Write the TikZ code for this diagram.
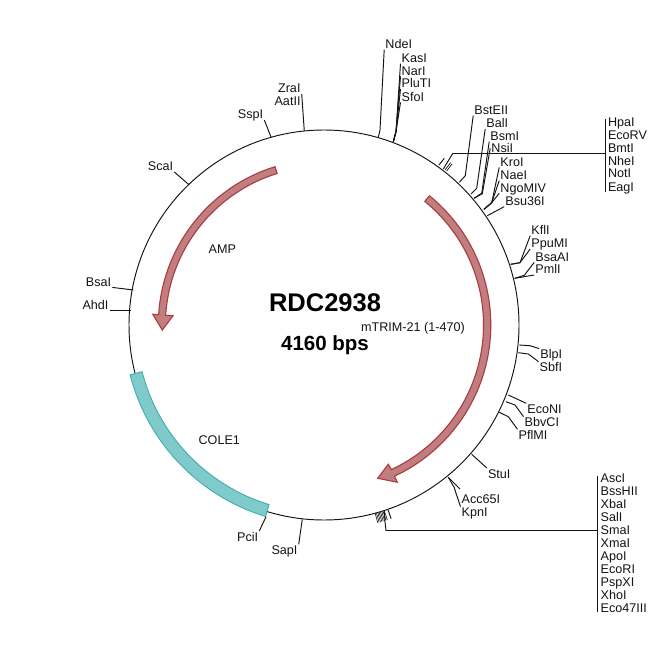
\documentclass[tikz,border=0pt]{standalone}
\usepackage{fontspec}
\setmainfont{Liberation Sans}
\definecolor{ink}{HTML}{141414}
\definecolor{redfill}{HTML}{C07E80}
\definecolor{redline}{HTML}{AD3A3E}
\definecolor{tealfill}{HTML}{7FCBCB}
\definecolor{tealline}{HTML}{45ABAB}
\tikzset{
  site/.style={font=\fontsize{12.6}{13}\selectfont,text=ink,inner sep=1pt,text height=9pt,text depth=0pt},
  rlab/.style={site,anchor=west},
  llab/.style={site,anchor=east},
  conn/.style={draw=ink,line width=0.95pt,line join=round},
  backbone/.style={draw=ink,line width=0.95pt},
  redarrow/.style={fill=redfill,draw=redline,line width=1.1pt,line join=miter},
  tealbox/.style={fill=tealfill,draw=tealline,line width=0.9pt},
  featlab/.style={font=\fontsize{12.6}{13}\selectfont,text=ink,inner sep=0pt},
}
\begin{document}
\begin{tikzpicture}[x=1pt,y=-1pt]
\useasboundingbox (0,0) rectangle (650,650);
\fill[white] (0,0) rectangle (650,650);
\coordinate (C) at (324,325);
\draw[backbone] (C) circle[radius=195pt];
\begin{scope}[shift={(324,325)},x=1pt,y=1pt]
  % AMP
  \draw[redarrow] (107.2:165.7) arc[start angle=107.2,end angle=176.5,radius=165.7pt]
     -- (176.4:171.6) -- (181.8:161.8) -- (176.5:151.3) -- (176.5:158.6)
     arc[start angle=176.5,end angle=107.2,radius=158.6pt] -- cycle;
  % mTRIM
  \draw[redarrow] (50.8:166.8) arc[start angle=50.8,end angle=-65,radius=166.8pt]
     -- (-65:173.5) -- (-70.7:162.4) -- (-65.2:153.4) -- (-65:159.5)
     arc[start angle=-65,end angle=50.8,radius=159.5pt] -- cycle;
  % COLE1
  \draw[tealbox] (194.4:200.2) arc[start angle=194.4,end angle=253,radius=200.2pt]
     -- (253:187.8) arc[start angle=253,end angle=194.4,radius=187.8pt] -- cycle;
  % dense tick clusters
  \foreach \a in {-74.8,-74.4,-74,-73.6,-73.2,-72.8,-72.4,-72}
    \draw[draw=ink,line width=0.6pt] (\a:195) -- (\a:205);
  \draw[conn] (-70.9:195.5) -- (-70.9:205);
  \coordinate (tBot) at (-72:195);
\end{scope}

% feature and title labels
\node[featlab] (amp) at (222.3,249) {AMP};
\node[featlab] (cole) at (219.3,440) {COLE1};
\node[featlab] (mtrim) at (413,328) {mTRIM-21 (1-470)};
\node[inner sep=0pt,text=black,font=\bfseries\fontsize{25.5}{26}\selectfont] (title) at (325,303) {RDC2938};
\node[inner sep=0pt,text=black,font=\bfseries\fontsize{20.5}{21}\selectfont] (size) at (325,345) {4160 bps};

% top labels
\node[rlab] (NdeI) at (384.2,44) {NdeI};
\node[rlab] (KasI) at (400.5,58) {KasI};
\node[rlab] (NarI) at (400.5,70.7) {NarI};
\node[rlab] (PluTI) at (400.5,83.3) {PluTI};
\node[rlab] (SfoI) at (400.5,96.7) {SfoI};
\node[rlab] (BstEII) at (473.2,110) {BstEII};
\node[rlab] (BalI) at (485.2,123.3) {BalI};
\node[rlab] (BsmI) at (489.2,136) {BsmI};
\node[rlab] (NsiI) at (490.2,148.3) {NsiI};
\node[rlab] (KroI) at (499.2,161.7) {KroI};
\node[rlab] (NaeI) at (499.2,175) {NaeI};
\node[rlab] (NgoMIV) at (499.2,187.7) {NgoMIV};
\node[rlab] (Bsu36I) at (504.2,201) {Bsu36I};
% right block
\foreach \n/\t/\y in {HpaI/HpaI/121.7,EcoRV/EcoRV/134.7,BmtI/BmtI/148,NheI/NheI/160.7,NotI/NotI/173.3,EagI/EagI/186.7}
  \node[rlab] (\n) at (606.8,\y) {\t};
% right side
\node[rlab] (KflI) at (530.2,230) {KflI};
\node[rlab] (PpuMI) at (530.2,243.3) {PpuMI};
\node[rlab] (BsaAI) at (534.2,256.7) {BsaAI};
\node[rlab] (PmlI) at (534.2,269.3) {PmlI};
\node[rlab] (BlpI) at (539.2,354.3) {BlpI};
\node[rlab] (SbfI) at (538.5,367.3) {SbfI};
\node[rlab] (EcoNI) at (526.2,409) {EcoNI};
\node[rlab] (BbvCI) at (523.5,422.3) {BbvCI};
\node[rlab] (PflMI) at (517.5,435) {PflMI};
\node[rlab] (StuI) at (486.8,473.7) {StuI};
\node[rlab] (Acc65I) at (460.5,499.3) {Acc65I};
\node[rlab] (KpnI) at (460.5,512.3) {KpnI};
% bottom block
\foreach \n/\t/\y in {AscI/AscI/478.3,BssHII/BssHII/491.3,XbaI/XbaI/504.3,SalI/SalI/517.3,SmaI/SmaI/530.3,XmaI/XmaI/543.3,ApoI/ApoI/556.3,EcoRI/EcoRI/569.3,PspXI/PspXI/582.3,XhoI/XhoI/595.3,Eco47III/Eco47III/608.3}
  \node[rlab] (\n) at (599.5,\y) {\t};
% left labels
\node[llab] (ZraI) at (301.7,88.3) {ZraI};
\node[llab] (AatII) at (301.7,101.3) {AatII};
\node[llab] (SspI) at (264.3,114.3) {SspI};
\node[llab] (ScaI) at (174.3,166.3) {ScaI};
\node[llab] (BsaI) at (112.3,281.7) {BsaI};
\node[llab] (AhdI) at (109.7,305) {AhdI};
\node[llab] (PciI) at (259.3,536.7) {PciI};
\node[llab] (SapI) at (298.7,550) {SapI};

% connectors
\draw[conn] (378.3,137.3) coordinate (tNde) -- (380,130) -- (NdeI.south west);
\coordinate (tKas) at (393.3,141.7);
\coordinate (eKas) at (396,131.7);
\foreach \n in {KasI,NarI,PluTI,SfoI} \draw[conn] (tKas) -- (eKas) -- (\n.south west);
\draw[conn] (459.3,182.3) coordinate (tBst) -- (465.3,175.7) -- (BstEII.south west);
\draw[conn] (471,194) coordinate (tBal) -- (476.7,188.3) -- (BalI.south west);
\draw[conn] (474,198.3) coordinate (tBsm) -- (481.7,193.3) -- (BsmI.south west);
\draw[conn] (tBsm) -- (482.3,193.7) -- (NsiI.west);
\coordinate (tKro) at (484,209.3);
\coordinate (eKro) at (491.7,202.7);
\foreach \n in {KroI,NaeI,NgoMIV} \draw[conn] (tKro) -- (eKro) -- (\n.south west);
\draw[conn] (487.3,215.7) coordinate (tBsu) -- (Bsu36I.south west);

\coordinate (topA) at (443.3,169);
\coordinate (topE) at (452.7,153.5);
\coordinate (brT) at (605.5,153.5);
\draw[conn] (topA) -- (topE) -- (brT);
\draw[conn] (605.5,119) coordinate (brT1) -- (605.5,191.7) coordinate (brT2);
\draw[conn] (439,165) coordinate (tHpa) -- (444.3,158.3);
\draw[conn,line width=0.7pt] (445,170) -- (450.7,162.7);
\draw[conn,line width=0.7pt] (446.7,171) -- (452,164);

\draw[conn] (510.7,264.3) coordinate (tKfl) -- (520,262.7) -- (KflI.south west);
\draw[conn] (tKfl) -- (520,262.7) -- (PpuMI.south west);
\draw[conn] (514.7,278.3) coordinate (tBsaA) -- (524.3,275.3) -- (BsaAI.south west);
\draw[conn] (tBsaA) -- (PmlI.south west);
\draw[conn] (519.3,345) coordinate (tBlp) -- (530,345.7) -- (BlpI.north west);
\draw[conn] (518.3,352.7) coordinate (tSbf) -- (528.3,354) -- (SbfI.north west);
\draw[conn] (508.3,395) coordinate (tEco) -- (EcoNI.north west);
\draw[conn] (506,401.7) coordinate (tBbv) -- (515,405) -- (BbvCI.north west);
\draw[conn] (499.3,412.3) coordinate (tPfl) -- (508.3,416.7) -- (PflMI.north west);
\draw[conn] (471.7,454.3) coordinate (tStu) -- (StuI.north west);
\coordinate (tAcc) at (448.3,477.3);
\coordinate (eAcc) at (460,489);
\draw[conn] (tAcc) -- (eAcc);
\draw[conn] (tAcc) -- (454,487) -- (KpnI.north west);

\coordinate (botE) at (386,530.5);
\coordinate (botA) at (385,522);
\draw[conn] (tBot) -- (botA) -- (botE) -- (597.5,530.5) coordinate (brB);
\draw[conn] (597.5,476) coordinate (brB1) -- (597.5,612.3) coordinate (brB2);

\draw[conn] (304.3,131) coordinate (tZra) -- (ZraI.south east);
\draw[conn] (271.3,137.7) coordinate (tSsp) -- (SspI.south east);
\draw[conn] (189.3,185) coordinate (tSca) -- (ScaI.south east);
\draw[conn] (133.3,290) coordinate (tBsaI) -- (BsaI.south east);
\draw[conn] (131,310.7) coordinate (tAhd) -- (AhdI.south east);
\draw[conn] (266,516.7) coordinate (tPci) -- (PciI.north east);
\draw[conn] (302.3,519.3) coordinate (tSap) -- (SapI.north east);
\end{tikzpicture}
\end{document}
